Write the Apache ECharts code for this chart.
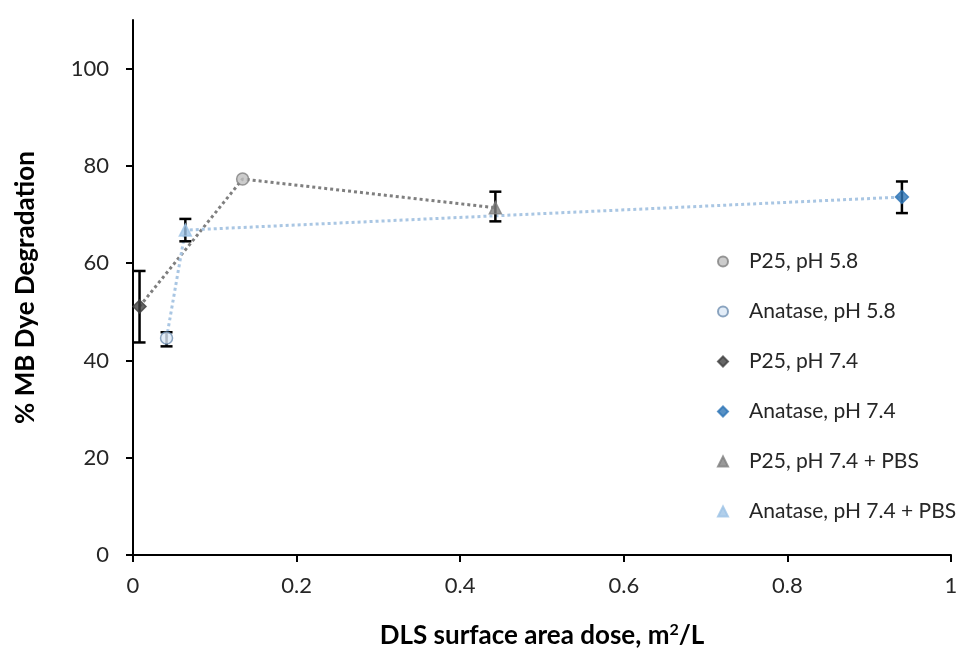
<!DOCTYPE html>
<html>
<head>
<meta charset="utf-8">
<title>MB Dye Degradation</title>
<script src="https://cdn.jsdelivr.net/npm/echarts@6/dist/echarts.min.js"></script>
<style>
    html, body { margin: 0; padding: 0; background: #fff; }
    #chartDose { width: 963px; height: 658px; }
</style>
</head>
<body>
<div id="chartDose"></div>
<script>
    // values
    const seriesNames = ['P25, pH 5.8', 'Anatase, pH 5.8', 'P25, pH 7.4', 'Anatase, pH 7.4', 'P25, pH 7.4 + PBS', 'Anatase, pH 7.4 + PBS']
    const doseValues = [0.134, 0.041, 0.008, 0.940, 0.443, 0.064]
    const degradationValues = [77.3, 44.6, 51.1, 73.6, 71.4, 66.8]
    const errorLow = [null, 42.9, 43.7, 70.3, 68.6, 64.5]
    const errorHigh = [null, 45.8, 58.4, 76.8, 74.7, 69.1]
    const yTickValues = [0, 20, 40, 60, 80, 100]
    // order the dotted trend lines pass through the points
    const p25LineOrder = [2, 0, 4]
    const anataseLineOrder = [1, 5, 3]

    const markerStyles = [
        { symbol: 'circle', size: 12, color: '#bfbfbf', border: '#7f7f7f' },
        { symbol: 'circle', size: 12, color: '#dce9f6', border: '#6f8fb0' },
        { symbol: 'diamond', size: 13, color: '#404040', border: '#404040' },
        { symbol: 'diamond', size: 13, color: '#2e75b6', border: '#2e75b6' },
        { symbol: 'triangle', size: 12, color: '#7f7f7f', border: '#7f7f7f' },
        { symbol: 'triangle', size: 12, color: '#9dc3e6', border: '#9dc3e6' }
    ]
    const fontFamily = 'Lato, "Open Sans", sans-serif'

    const myChart = echarts.init(document.getElementById('chartDose'))

    const trendLine = (order, color) => ({
        type: 'line',
        data: order.map(i => [doseValues[i], degradationValues[i]]),
        showSymbol: false,
        silent: true,
        z: 1,
        lineStyle: { color: color, width: 3, type: [3, 3] }
    })

    const errorData = []
    doseValues.forEach((x, i) => {
        if (errorLow[i] !== null) errorData.push([x, errorLow[i], errorHigh[i]])
    })

    const scatterSeries = seriesNames.map((name, i) => ({
        name: name,
        type: 'scatter',
        data: [[doseValues[i], degradationValues[i]]],
        symbol: markerStyles[i].symbol,
        symbolSize: markerStyles[i].size,
        symbolKeepAspect: true,
        z: 5,
        itemStyle: {
            color: markerStyles[i].color,
            borderColor: markerStyles[i].border,
            borderWidth: 1.5
        }
    }))

    const option = {
        backgroundColor: '#fff',
        animation: false,
        grid: { left: 133, right: 12, top: 20, bottom: 103 },
        legend: {
            data: seriesNames,
            orient: 'vertical',
            left: 712,
            top: 246,
            itemWidth: 10,
            itemHeight: 10,
            itemGap: 29,
            formatter: name => '{t|' + name + '}',
            textStyle: {
                fontFamily: fontFamily,
                fontSize: 21,
                color: '#262626',
                rich: { t: { fontFamily: fontFamily, fontSize: 21, color: '#262626', padding: [0, 0, 0, 16] } }
            }
        },
        xAxis: {
            type: 'value',
            min: 0,
            max: 1,
            interval: 0.2,
            name: 'DLS surface area dose, m{sup|2}/L',
            nameLocation: 'middle',
            nameGap: 67,
            nameTextStyle: {
                fontFamily: fontFamily,
                fontSize: 26,
                fontWeight: 'bold',
                color: '#000',
                rich: {
                    sup: { fontFamily: fontFamily, fontSize: 16, fontWeight: 'bold', color: '#000', verticalAlign: 'top', padding: [0, 0, 12, 0] }
                }
            },
            axisLine: { lineStyle: { color: '#000', width: 2 } },
            axisTick: { length: 7, lineStyle: { color: '#000', width: 2 } },
            axisLabel: { margin: 20, fontFamily: fontFamily, fontSize: 22, color: '#262626' },
            splitLine: { show: false }
        },
        yAxis: {
            type: 'value',
            min: 0,
            max: 110,
            interval: 20,
            name: '% MB Dye Degradation',
            nameLocation: 'middle',
            nameGap: 94,
            nameTextStyle: { fontFamily: fontFamily, fontSize: 26, fontWeight: 'bold', color: '#000' },
            axisLine: { show: true, lineStyle: { color: '#000', width: 2 } },
            axisTick: { show: true, length: 7, customValues: yTickValues, lineStyle: { color: '#000', width: 2 } },
            axisLabel: { margin: 24, customValues: yTickValues, fontFamily: fontFamily, fontSize: 22, color: '#262626' },
            splitLine: { show: false }
        },
        series: [
            trendLine(p25LineOrder, '#7f7f7f'),
            trendLine(anataseLineOrder, '#a9c6e3'),
            {
                type: 'custom',
                silent: true,
                z: 3,
                data: errorData,
                encode: { x: 0, y: [1, 2] },
                renderItem: (params, api) => {
                    const x = api.value(0)
                    const lo = api.coord([x, api.value(1)])
                    const hi = api.coord([x, api.value(2)])
                    const w = 6
                    const style = { stroke: '#000', lineWidth: 2.5 }
                    return {
                        type: 'group',
                        children: [
                            { type: 'line', shape: { x1: lo[0], y1: lo[1], x2: hi[0], y2: hi[1] }, style: style },
                            { type: 'line', shape: { x1: lo[0] - w, y1: lo[1], x2: lo[0] + w, y2: lo[1] }, style: style },
                            { type: 'line', shape: { x1: hi[0] - w, y1: hi[1], x2: hi[0] + w, y2: hi[1] }, style: style }
                        ]
                    }
                }
            }
        ].concat(scatterSeries)
    }

    myChart.setOption(option)
    window.addEventListener('resize', () => myChart.resize(), false)
</script>
</body>
</html>
